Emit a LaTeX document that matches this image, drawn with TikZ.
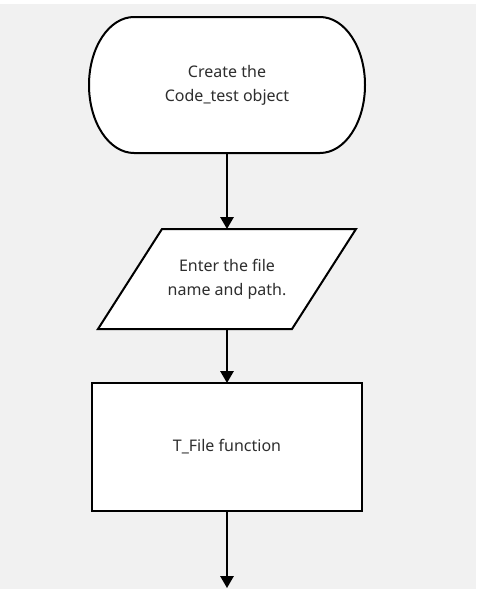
\documentclass[tikz,border=0pt]{standalone}
\usepackage{fontspec}
\setmainfont{Noto Sans}
\usepackage{xcolor}
\usepackage{tikz}
\usetikzlibrary{arrows.meta,positioning,backgrounds}
\definecolor{pagegray}{HTML}{F1F1F1}
\definecolor{textgray}{HTML}{2E2E2E}

\begin{document}
\begin{tikzpicture}[
    node distance=57pt,
    box/.style={align=center, inner sep=0pt, outer sep=0pt, text=textgray,
                font=\fontsize{12pt}{18pt}\selectfont},
    outline/.style={draw, line width=1.5pt, fill=white},
    arrow/.style={-{Triangle[length=9pt,width=10pt]}, line width=1.5pt}
]
\useasboundingbox (0,0) rectangle (357.75pt,-441.75pt);
\node[box, minimum width=207pt, minimum height=102pt] (start) at (170.25pt,-63.75pt) {Create the\\Code\_test object};
\node[box, minimum width=145.5pt, minimum height=75pt, below=of start] (input) {Enter the file\\name and path.};
\node[box, outline, minimum width=202.5pt, minimum height=96pt, below=40.5pt of input] (tfile) {T\_File function};
\coordinate (out) at ([yshift=-57.75pt]tfile.south);
% terminal and input shapes sit behind the text
\begin{scope}[on background layer]
\fill[white] (0,0) rectangle (357.75pt,-441.75pt);
\fill[pagegray] (0,-3pt) rectangle (357pt,-441.75pt);
\draw[outline] ([xshift=33.75pt]start.north west) -- ([xshift=-33.75pt]start.north east)
    arc[start angle=90, end angle=-90, x radius=33.75pt, y radius=51pt]
    -- ([xshift=33.75pt]start.south west)
    arc[start angle=270, end angle=90, x radius=33.75pt, y radius=51pt] -- cycle;
\draw[outline] ([xshift=24pt]input.north west) -- ([xshift=24pt]input.north east)
    -- ([xshift=-24pt]input.south east) -- ([xshift=-24pt]input.south west) -- cycle;
\end{scope}
\draw[arrow] (start) -- (input);
\draw[arrow] (input) -- (tfile);
\draw[arrow] (tfile) -- (out);
\end{tikzpicture}
\end{document}
